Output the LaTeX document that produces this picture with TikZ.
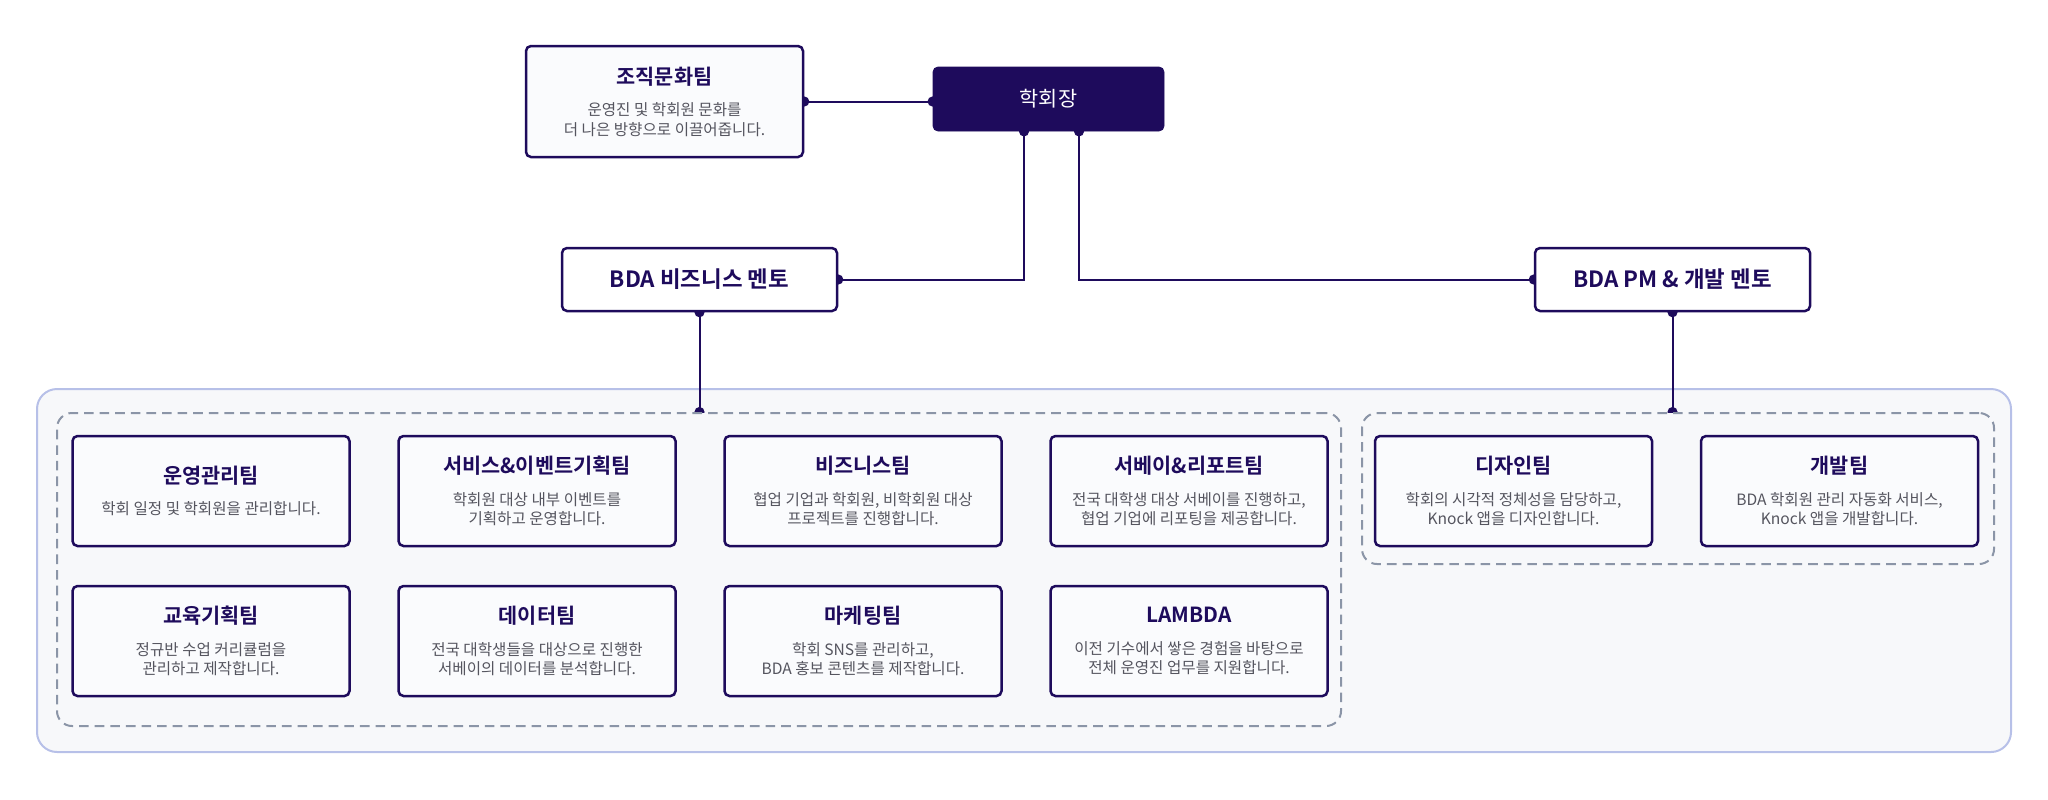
\documentclass[tikz,border=0pt]{standalone}
\usepackage{fontspec}
\setmainfont{Noto Sans CJK KR}[BoldFont={Noto Sans CJK KR Bold}]
\usetikzlibrary{arrows.meta,
                  positioning,
                  backgrounds}
\definecolor{navy}{HTML}{1E0B5C}
\definecolor{descgray}{HTML}{55555F}
\definecolor{boxfill}{HTML}{FAFBFD}
\definecolor{panelfill}{HTML}{F7F8FA}
\definecolor{paneledge}{HTML}{B7C0E8}
\definecolor{dashgray}{HTML}{8B95A7}
\newcommand{\titlefont}{\fontsize{10.4}{12}\selectfont\bfseries\color{navy}}

\begin{document}
\begin{tikzpicture}[x=0.5pt, y=-0.5pt]
    \tikzset{
    team/.style= {draw=navy, line width=1.25pt, rectangle, rounded corners=2.5pt, fill=boxfill, align=center, minimum width=138.5pt, minimum height=55pt, inner sep=2pt, font=\fontsize{7.8}{9.8}\selectfont, text=descgray},
    mentor/.style= {draw=navy, line width=1.25pt, rectangle, rounded corners=2.5pt, fill=white, align=center, minimum width=137.5pt, minimum height=31.5pt, font=\fontsize{11.2}{13}\selectfont\bfseries, text=navy},
    head/.style= {draw=navy, fill=navy, rectangle, rounded corners=2.5pt, minimum width=115.5pt, minimum height=32pt, font=\fontsize{10.4}{12}\selectfont, text=white},
    group/.style= {draw=dashgray, line width=1pt, dash pattern=on 4.8pt off 3pt, rounded corners=7.5pt, fill=panelfill, rectangle, inner sep=0pt},
    panel/.style= {draw=paneledge, line width=1pt, fill=panelfill, rounded corners=10pt},
    line/.style = {draw=navy, line width=1pt, {Circle[length=5pt]}-{Circle[length=5pt]}, shorten <=-2.5pt, shorten >=-2.5pt}
}
\useasboundingbox (0,0) rectangle (2048,799);

\node [head] (president) at (1048.5,99) {학회장};
\node [team, minimum height=55.5pt] (culture) at (664.5,101.5) {{\titlefont 조직문화팀}\\[6pt]운영진 및 학회원 문화를\\더 나은 방향으로 이끌어줍니다.};
\node [mentor] (bizmentor) at (699.5,279.5) {BDA 비즈니스 멘토};
\node [mentor] (pmmentor) at (1672.5,279.5) {BDA PM \& 개발 멘토};

\node [group, minimum width=642pt, minimum height=156.5pt] (leftgrp) at (699,569.5) {};
\node [group, minimum width=316pt, minimum height=75.5pt] (rightgrp) at (1678,488.5) {};

\node [team] (ops) at (211,491) {{\titlefont 운영관리팀}\\[6pt]학회 일정 및 학회원을 관리합니다.};
\node [team, right=23.25pt of ops] (event) {{\titlefont 서비스\&이벤트기획팀}\\[6pt]학회원 대상 내부 이벤트를\\기획하고 운영합니다.};
\node [team, right=23.25pt of event] (business) {{\titlefont 비즈니스팀}\\[6pt]협업 기업과 학회원, 비학회원 대상\\프로젝트를 진행합니다.};
\node [team, right=23.25pt of business] (survey) {{\titlefont 서베이\&리포트팀}\\[6pt]전국 대학생 대상 서베이를 진행하고,\\협업 기업에 리포팅을 제공합니다.};

\node [team, below=18.75pt of ops] (edu) {{\titlefont 교육기획팀}\\[6pt]정규반 수업 커리큘럼을\\관리하고 제작합니다.};
\node [team, below=18.75pt of event] (data) {{\titlefont 데이터팀}\\[6pt]전국 대학생들을 대상으로 진행한\\서베이의 데이터를 분석합니다.};
\node [team, below=18.75pt of business] (marketing) {{\titlefont 마케팅팀}\\[6pt]학회 SNS를 관리하고,\\BDA 홍보 콘텐츠를 제작합니다.};
\node [team, below=18.75pt of survey] (lambda) {{\titlefont LAMBDA}\\[6pt]이전 기수에서 쌓은 경험을 바탕으로\\전체 운영진 업무를 지원합니다.};

\node [team] (design) at (1513.5,491) {{\titlefont 디자인팀}\\[6pt]학회의 시각적 정체성을 담당하고,\\Knock 앱을 디자인합니다.};
\node [team, right=23.25pt of design] (dev) {{\titlefont 개발팀}\\[6pt]BDA 학회원 관리 자동화 서비스,\\Knock 앱을 개발합니다.};

\begin{scope}[on background layer]
\draw [panel] (37,389) rectangle (2011,752);
\path [line] (culture.east) -- (culture.east -| president.west);
\path [line] ([xshift=-12.25pt] president.south) |- (bizmentor.east);
\path [line] ([xshift=15.25pt] president.south) |- (pmmentor.west);
\path [line] (bizmentor.south) -- (bizmentor.south |- leftgrp.north);
\path [line] (pmmentor.south) -- (pmmentor.south |- rightgrp.north);
\end{scope}

\end{tikzpicture}
\end{document}
